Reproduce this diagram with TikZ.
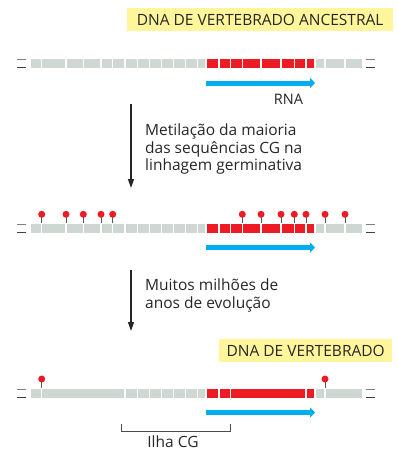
\documentclass[tikz,border=0pt]{standalone}
\usepackage{fontspec}
\setmainfont{Open Sans}
\usetikzlibrary{arrows.meta,positioning}
\definecolor{DnaGray}{HTML}{CFD7D3}
\definecolor{GeneRed}{HTML}{ED1C24}
\definecolor{RnaBlue}{HTML}{00AEEF}
\definecolor{TagYellow}{HTML}{FFF59A}
\definecolor{StemGray}{HTML}{555555}
\tikzset{
  titlebox/.style={fill=TagYellow,inner sep=0pt,minimum height=23pt,font=\fontsize{15.5}{18}\selectfont,text=black!85},
  bodytext/.style={font=\fontsize{15.5}{17.5}\selectfont,align=left,inner sep=0pt,text=black!85},
  stepdown/.style={line width=1.3pt,black!85,-{Triangle[length=9pt,width=6pt]}},
  rnaarrow/.style={RnaBlue,line width=5pt,-{Triangle[length=5pt,width=10pt]}},
  cpgpin/.style={StemGray,line width=0.9pt},
}

\begin{document}
\begin{tikzpicture}[x=1pt,y=-1pt]
  \useasboundingbox (0,0) rectangle (397,450);
  % labels
  \node[titlebox,minimum width=266pt,anchor=north west] (ancestral) at (127,8) {DNA DE VERTEBRADO ANCESTRAL};
  \node[titlebox,minimum width=173pt,anchor=north west] (modern) at (219,339) {DNA DE VERTEBRADO};
  % the three strands
  \foreach \y/\gaps in {
    63.5/{41.7,66,83.3,101,112.7,125,137.7,149.3,161.7,173.3,185.7,197.3,206,219,230.7,242.3,261,281,294.3,306,315,325,345},
    228/{41.7,66,83.3,101,112.7,125,137.7,149.3,161.7,173.3,185.7,197.3,206,219,230.7,242.3,261,281,294.3,306,315,325,345},
    393/{41.7,125,137.7,149.3,161.7,173.3,185.7,197.3,206,219,230.7,306,315,325}}
  {
    \fill[DnaGray] (31,\y-4.5) rectangle (362,\y+4.5);
    \fill[GeneRed] (206,\y-4.5) rectangle (315,\y+4.5);
    \foreach \g in \gaps
      \draw[white,line width=1.2pt] (\g,\y-5) -- (\g,\y+5);
    \draw[gray,line width=1pt] (17,\y-4) -- (26,\y-4) (366,\y-4) -- (375,\y-4);
    \draw[black!75,line width=1pt] (17,\y+4) -- (26,\y+4) (366,\y+4) -- (375,\y+4);
    \draw[rnaarrow] (206,\y+19.5) -- (315,\y+19.5);
  }
  % methylated CG sites
  \foreach \x in {41.7,66,83.3,101,112.7,242.3,261,281,294.3,306,325,345}
  {
    \draw[cpgpin] (\x,223) -- (\x,214.3);
    \fill[GeneRed] (\x,214.3) circle (3.5pt);
  }
  \foreach \x in {41.7,325}
  {
    \draw[cpgpin] (\x,388) -- (\x,379);
    \fill[GeneRed] (\x,379) circle (3.5pt);
  }
  \node[font=\fontsize{14.5}{16}\selectfont,text=black!85,anchor=base] (rna) at (288.5,104.3) {RNA};
  % steps
  \coordinate (meth top) at (131,104);
  \coordinate (meth bot) at (131,188);
  \draw[stepdown] (meth top) -- (meth bot);
  \node[bodytext,anchor=north west] (meth) at (145,124) {Metilação da maioria\\das sequências CG na\\linhagem germinativa};
  \coordinate (evo top) at (131,270);
  \coordinate (evo bot) at (131,331);
  \draw[stepdown] (evo top) -- (evo bot);
  \node[bodytext,anchor=north west] (evo) at (145,279) {Muitos milhões de\\anos de evolução};
  % CG island
  \coordinate (isl left) at (121.7,424.3);
  \coordinate (isl right) at (230,424.3);
  \draw[black!70,line width=0.9pt] (isl left) |- (230,431.7) -- (isl right);
  \node[font=\fontsize{15.5}{18}\selectfont,text=black!85,inner sep=0pt,anchor=base] (island) at (173,447) {Ilha CG};
\end{tikzpicture}
\end{document}
